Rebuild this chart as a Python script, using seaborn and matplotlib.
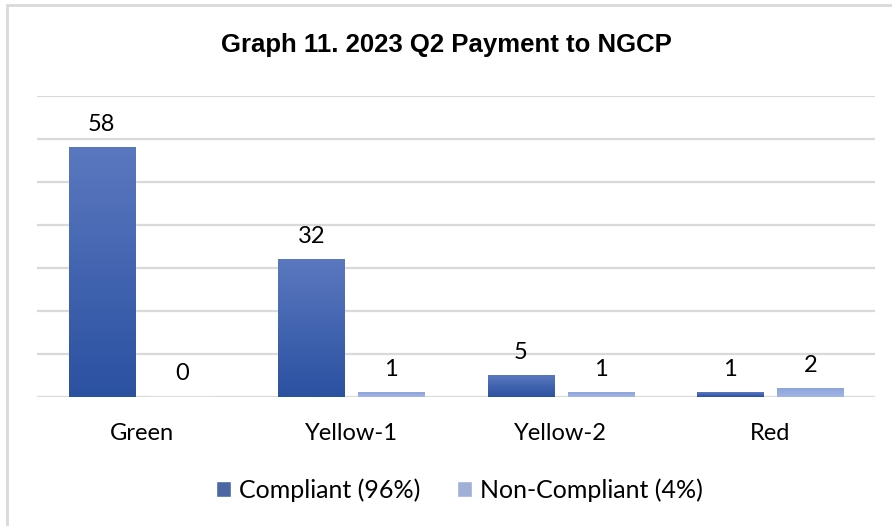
import numpy as np
import pandas as pd
import matplotlib
matplotlib.use("Agg")
import matplotlib.pyplot as plt
import seaborn as sns
from matplotlib.colors import LinearSegmentedColormap
from matplotlib.patches import Rectangle

categories = ["Green", "Yellow-1", "Yellow-2", "Red"]
compliant = [58, 32, 5, 1]
non_compliant = [0, 1, 1, 2]
series = ["Compliant (96%)", "Non-Compliant (4%)"]

df = pd.DataFrame({
    "category": categories * 2,
    "count": compliant + non_compliant,
    "series": [series[0]] * len(categories) + [series[1]] * len(categories),
})

sns.set_style("white")
plt.rcParams["font.family"] = ["Lato", "DejaVu Sans"]
plt.rcParams["text.color"] = "black"
plt.rcParams["xtick.color"] = "black"

fig = plt.figure(figsize=(8.92, 5.26), dpi=100)
ax = fig.add_axes([37 / 892, 1 - 397 / 526, 838 / 892, 301 / 526])

palette = {series[0]: "#3c62b3", series[1]: "#97abdf"}
sns.barplot(data=df, x="category", y="count", hue="series", palette=palette,
            width=0.764, gap=0.175, ax=ax, zorder=3)

# gradient fill like the office chart
grads = {
    series[0]: LinearSegmentedColormap.from_list("c", ["#2b51a1", "#5a78bf"]),
    series[1]: LinearSegmentedColormap.from_list("n", ["#a2b5e4", "#8ea4da"]),
}
g = np.linspace(0, 1, 100).reshape(-1, 1)
for cont, name in zip(ax.containers, series):
    for bar in cont:
        x, w, h = bar.get_x(), bar.get_width(), bar.get_height()
        if h <= 0:
            continue
        ax.imshow(g, extent=[x, x + w, 0, h], origin="lower", aspect="auto",
                  cmap=grads[name], zorder=3.5)
    ax.bar_label(cont, padding=9, fontsize=17, color="black")

ax.set_xlim(-0.5, 3.5)
ax.set_ylim(0, 70)
ax.set_yticks(np.arange(0, 71, 10))
ax.yaxis.grid(True, color="#d9d9d9", linewidth=1.6, zorder=0)
ax.tick_params(axis="y", left=False, labelleft=False)
ax.tick_params(axis="x", bottom=False, labelsize=17, labelcolor="black", pad=15)
for s in ax.spines.values():
    s.set_visible(False)
ax.set_xlabel("")
ax.set_ylabel("")

handles, labels = ax.get_legend_handles_labels()
ax.legend_.remove()
fig.legend(handles, labels, loc="center", bbox_to_anchor=(0.515, 1 - 490 / 526),
           ncol=2, frameon=False, fontsize=18, handlelength=0.6, handleheight=0.6,
           handletextpad=0.3, columnspacing=1.5, labelcolor="black")

fig.text(0.5, 1 - 45 / 526, "Graph 11. 2023 Q2 Payment to NGCP", ha="center", va="center",
         fontsize=18.5, fontweight="bold", color="black",
         family=["Liberation Sans", "DejaVu Sans"])

fig.patches.append(Rectangle((7 / 892, -0.05), 1.1, 1.05 - 5 / 526, transform=fig.transFigure,
                             fill=False, edgecolor="#d9d9d9", linewidth=2))

fig.savefig("out.png", dpi=100, facecolor="white")
